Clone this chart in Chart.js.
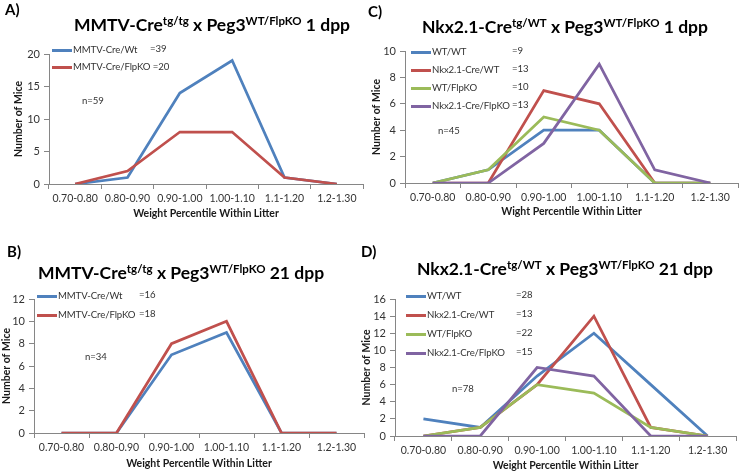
<!DOCTYPE html>
<html>
<head>
<meta charset="utf-8">
<script src="https://cdn.jsdelivr.net/npm/chart.js@4.4.0/dist/chart.umd.min.js"></script>
<style>
  body { margin: 0; background: #fff; }
  #page { position: relative; width: 740px; height: 472px; overflow: hidden; font-family: Lato, sans-serif; }
  canvas { position: absolute; }
  .title { position: absolute; font-weight: bold; font-size: 17.5px; line-height: 17px; white-space: nowrap; transform: translateX(-50%); color: #000; }
  .title sup { font-size: 11.5px; vertical-align: 6px; line-height: 0; }
  .letter { position: absolute; font-weight: bold; font-size: 15px; line-height: 15px; }
  .txt { position: absolute; font-size: 9.6px; line-height: 11px; letter-spacing: -0.1px; color: #333; white-space: nowrap; }
  .swatch { position: absolute; height: 2.5px; }
</style>
</head>
<body>
<div id="page"></div>
<script>
const categories = ["0.70-0.80", "0.80-0.90", "0.90-1.00", "1.00-1.10", "1.1-1.20", "1.2-1.30"];

// A) MMTV-Cre x Peg3, 1 dpp
const mmtv1dppWt = [0, 1, 14, 19, 1, 0];
const mmtv1dppFlpKO = [0, 2, 8, 8, 1, 0];
// B) MMTV-Cre x Peg3, 21 dpp
const mmtv21dppWt = [0, 0, 7, 9, 0, 0];
const mmtv21dppFlpKO = [0, 0, 8, 10, 0, 0];
// C) Nkx2.1-Cre x Peg3, 1 dpp
const nkx1dppWtWt = [0, 1, 4, 4, 0, 0];
const nkx1dppCreWt = [0, 0, 7, 6, 0, 0];
const nkx1dppWtFlpKO = [0, 1, 5, 4, 0, 0];
const nkx1dppCreFlpKO = [0, 0, 3, 9, 1, 0];
// D) Nkx2.1-Cre x Peg3, 21 dpp
const nkx21dppWtWt = [2, 1, 7, 12, 6, 0];
const nkx21dppCreWt = [0, 1, 6, 14, 1, 0];
const nkx21dppWtFlpKO = [0, 1, 6, 5, 1, 0];
const nkx21dppCreFlpKO = [0, 0, 8, 7, 0, 0];

const mmtvNames = ["MMTV-Cre/Wt", "MMTV-Cre/FlpKO"];
const nkxNames = ["WT/WT", "Nkx2.1-Cre/WT", "WT/FlpKO", "Nkx2.1-Cre/FlpKO"];
const countsA = [39, 20];
const countsB = [16, 18];
const countsC = [9, 13, 10, 13];
const countsD = [28, 13, 22, 15];

const colors = ["#4F81BD", "#C0504D", "#9BBB59", "#8064A2"];
const axisGray = "#868686";
const xTickFont = { family: "Lato", size: 10.5 };
const yTickFont = { family: "Lato", size: 11 };
const axisTitleFont = { family: "Lato", size: 10.5, weight: "bold", lineHeight: 1.2 };

const panels = [
  {
    letter: "A)", letterX: 5, letterY: 2,
    title: 'MMTV-Cre<sup>tg/tg</sup> x Peg3<sup>WT/FlpKO</sup> 1 dpp', titleX: 212, titleY: 16,
    xTitle: "Weight Percentile Within Litter",
    names: mmtvNames, series: [mmtv1dppWt, mmtv1dppFlpKO], counts: countsA, n: 59,
    yMax: 20, yStep: 5,
    box: { left: 0, top: 0, width: 370, height: 236 },
    plot: { left: 49, right: 363, top: 54, bottom: 184 },
    yTitleX: 19, xTitleY: 214,
    legend: { x: 52, y: 50, gap: 17, countX: [150, null] },
    nPos: { x: 82, y: 95 },
  },
  {
    letter: "B)", letterX: 7, letterY: 244,
    title: 'MMTV-Cre<sup>tg/tg</sup> x Peg3<sup>WT/FlpKO</sup> 21 dpp', titleX: 181, titleY: 264,
    xTitle: "Weight Percentile Within Litter",
    names: mmtvNames, series: [mmtv21dppWt, mmtv21dppFlpKO], counts: countsB, n: 34,
    yMax: 12, yStep: 2,
    box: { left: 0, top: 236, width: 370, height: 236 },
    plot: { left: 34, right: 364, top: 299, bottom: 433 },
    yTitleX: 5, xTitleY: 464,
    legend: { x: 37, y: 296, gap: 19, countX: [139, 139] },
    nPos: { x: 85, y: 351 },
  },
  {
    letter: "C)", letterX: 368, letterY: 4,
    title: 'Nkx2.1-Cre<sup>tg/WT</sup> x Peg3<sup>WT/FlpKO</sup> 1 dpp', titleX: 565, titleY: 18,
    xTitle: "Wight Percentile Within Litter",
    names: nkxNames, series: [nkx1dppWtWt, nkx1dppCreWt, nkx1dppWtFlpKO, nkx1dppCreFlpKO], counts: countsC, n: 45,
    yMax: 10, yStep: 1,
    box: { left: 370, top: 0, width: 370, height: 236 },
    plot: { left: 405, right: 738, top: 51, bottom: 183 },
    yTitleX: 377, xTitleY: 212,
    legend: { x: 411, y: 52, gap: 18, countX: [512, 512, 512, 512] },
    nPos: { x: 438, y: 125 },
  },
  {
    letter: "D)", letterX: 361, letterY: 244,
    title: 'Nkx2.1-Cre<sup>tg/WT</sup> x Peg3<sup>WT/FlpKO</sup> 21 dpp', titleX: 565, titleY: 260,
    xTitle: "Weight Percentile Within Litter",
    names: nkxNames, series: [nkx21dppWtWt, nkx21dppCreWt, nkx21dppWtFlpKO, nkx21dppCreFlpKO], counts: countsD, n: 78,
    yMax: 16, yStep: 2,
    box: { left: 355, top: 236, width: 385, height: 236 },
    plot: { left: 395, right: 736, top: 299, bottom: 436 },
    yTitleX: 367, xTitleY: 466,
    legend: { x: 406, y: 296, gap: 19, countX: [516, 516, 516, 516] },
    nPos: { x: 452, y: 383 },
  },
];

const page = document.getElementById("page");

function addDiv(cls, x, y, html) {
  const d = document.createElement("div");
  d.className = cls;
  d.style.left = x + "px";
  d.style.top = y + "px";
  d.innerHTML = html;
  page.appendChild(d);
  return d;
}

function buildPanel(p) {
  const b = p.box;
  const canvas = document.createElement("canvas");
  canvas.width = b.width;
  canvas.height = b.height;
  canvas.style.left = b.left + "px";
  canvas.style.top = b.top + "px";
  page.appendChild(canvas);

  const titleHalf = axisTitleFont.size * axisTitleFont.lineHeight / 2;
  const yAxisW = p.plot.left - b.left;
  const xAxisH = b.top + b.height - p.plot.bottom;

  new Chart(canvas.getContext("2d"), {
    type: "line",
    data: {
      labels: categories,
      datasets: p.series.map((values, i) => ({
        label: p.names[i],
        data: values,
        borderColor: colors[i],
        borderWidth: 2.75,
        pointRadius: 0,
        tension: 0,
        fill: false,
        order: -i, // later series on top, like the original
      })),
    },
    options: {
      responsive: false,
      animation: false,
      devicePixelRatio: 1,
      layout: {
        padding: { left: 0, top: p.plot.top - b.top, right: b.left + b.width - p.plot.right, bottom: 0 },
      },
      plugins: { legend: { display: false }, tooltip: { enabled: false } },
      scales: {
        x: {
          offset: true,
          grid: { offset: true, drawOnChartArea: false, tickLength: 5, color: axisGray },
          border: { color: axisGray },
          ticks: { font: xTickFont, color: "#333", padding: 3, maxRotation: 0, autoSkip: false },
          title: {
            display: true, text: p.xTitle, font: axisTitleFont, color: "#1a1a1a",
            padding: { top: 0, bottom: Math.max(0, b.top + b.height - p.xTitleY - titleHalf) },
          },
          afterFit: (scale) => { scale.height = xAxisH; },
        },
        y: {
          min: 0, max: p.yMax,
          grid: { drawOnChartArea: false, tickLength: 5, color: axisGray },
          border: { color: axisGray },
          ticks: { stepSize: p.yStep, font: yTickFont, color: "#333", padding: 4 },
          title: {
            display: true, text: "Number of Mice", font: axisTitleFont, color: "#1a1a1a",
            padding: { top: Math.max(0, p.yTitleX - b.left - titleHalf), bottom: 0 },
          },
          afterFit: (scale) => { scale.width = yAxisW; },
        },
      },
    },
  });

  // title, panel letter, legend and n label as html text
  addDiv("title", p.titleX, p.titleY, p.title);
  addDiv("letter", p.letterX, p.letterY, p.letter);
  p.names.forEach((name, i) => {
    const y = p.legend.y + i * p.legend.gap;
    const sw = addDiv("swatch", p.legend.x, y - 1, "");
    sw.style.width = "20px";
    sw.style.background = colors[i];
    const cx = p.legend.countX[i];
    if (cx === null) {
      addDiv("txt", p.legend.x + 21, y - 6, name + " =" + p.counts[i]);
    } else {
      addDiv("txt", p.legend.x + 21, y - 6, name);
      addDiv("txt", cx, y - 7, "=" + p.counts[i]);
    }
  });
  addDiv("txt", p.nPos.x, p.nPos.y, "n=" + p.n);
}

panels.forEach(buildPanel);
</script>
</body>
</html>
